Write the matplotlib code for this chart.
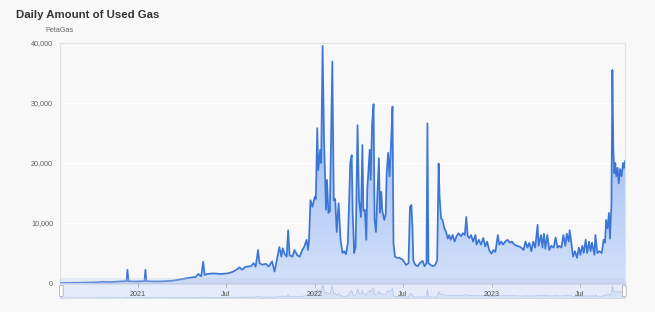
import numpy as np
import matplotlib
matplotlib.use("Agg")
import matplotlib.pyplot as plt
import matplotlib.dates as mdates
from matplotlib.colors import LinearSegmentedColormap
from matplotlib.ticker import FuncFormatter
from matplotlib.patches import FancyBboxPatch

plt.rcParams['font.family'] = ['Liberation Sans', 'DejaVu Sans']

# days counted from 2021-01-01, values in PetaGas
days = [-160, -139, -112, -87, -73, -56, -40, -27, -23, -21, -19, -5, 14, 16, 18, 37, 57, 67, 74, 88,
        109, 119, 125, 131, 135, 138, 143, 156, 171, 185, 195, 205, 210, 215, 222, 233, 239, 243, 248, 251,
        257, 264, 270, 277, 282, 288, 292, 296, 299, 303, 307, 310, 313, 319, 323, 329, 334, 339, 343, 348,
        351, 353, 356, 360, 365, 367, 370, 372, 376, 378, 381, 384, 388, 390, 393, 396, 401, 404, 407, 410,
        414, 418, 422, 425, 429, 433, 438, 441, 443, 446, 449, 453, 456, 460, 463, 465, 468, 471, 473, 478,
        480, 483, 486, 488, 491, 494, 497, 499, 502, 504, 508, 511, 513, 516, 519, 522, 525, 527, 530, 535,
        539, 546, 553, 558, 561, 564, 566, 568, 572, 577, 581, 587, 591, 595, 597, 599, 604, 608, 613, 617,
        620, 622, 625, 628, 632, 635, 639, 642, 645, 649, 653, 657, 661, 666, 670, 674, 677, 680, 683, 687,
        691, 696, 698, 703, 707, 712, 716, 720, 724, 729, 733, 737, 742, 745, 749, 753, 757, 762, 767, 771,
        776, 781, 786, 790, 795, 799, 803, 807, 811, 815, 819, 824, 826, 831, 834, 837, 840, 844, 848, 852,
        857, 861, 865, 869, 873, 877, 881, 884, 888, 890, 893, 897, 901, 905, 909, 912, 916, 919, 923, 926,
        930, 933, 936, 941, 943, 947, 951, 956, 960, 963, 965, 968, 971, 973, 976, 978, 980, 982, 984, 986,
        989, 991, 994, 997, 1000, 1002, 1004]
gas = [0, 20, 60, 100, 200, 150, 250, 300, 300, 2200, 300, 250, 300, 2200, 300, 250, 300, 350, 400, 600,
       900, 1000, 1500, 1100, 3550, 1330, 1500, 1600, 1500, 1600, 1830, 2300, 2600, 2200, 2700, 2800, 3300, 2700, 5500, 3300,
       3050, 3200, 2750, 3600, 1900, 4400, 6000, 4400, 5800, 4800, 4400, 8800, 4600, 4400, 5500, 4600, 4400, 5500, 6000, 7200,
       5500, 7100, 13800, 12700, 14400, 14000, 25800, 18800, 22200, 20000, 39500, 23800, 12200, 17200, 11700, 12000, 36900, 13800, 14000, 8500,
       13300, 7200, 5000, 5300, 4800, 6700, 20000, 21300, 11700, 5000, 6000, 26300, 13800, 11000, 23000, 12000, 12200, 7200, 15500, 22200,
       17200, 26600, 29800, 10500, 8500, 15000, 20800, 11700, 15200, 12000, 10500, 11500, 18300, 21700, 17800, 23300, 29400, 6700, 4400, 4200,
       4200, 3900, 3000, 3300, 12700, 13000, 9400, 3700, 3000, 2800, 3300, 3700, 2800, 3300, 26600, 3300, 3000, 2800, 3000, 3800,
       19900, 14400, 10800, 10500, 9100, 8600, 7400, 8000, 7200, 8000, 6900, 7800, 8300, 7800, 8300, 8000, 11000, 7800, 7500, 8000,
       6900, 8000, 6400, 7200, 6400, 7500, 6100, 6900, 5500, 4900, 5500, 5200, 8000, 6400, 6900, 6400, 6900, 7200, 6700, 6900,
       6400, 6200, 6100, 5900, 5500, 6900, 5900, 6700, 5300, 6900, 5900, 9700, 6200, 8000, 5900, 8200, 5700, 8000, 5500, 6200,
       5900, 7600, 5900, 6200, 5900, 8000, 6200, 8200, 6900, 8800, 6900, 4400, 5300, 4200, 5900, 4700, 6200, 5000, 7200, 5000,
       6900, 5300, 6700, 4700, 8000, 5000, 5300, 5000, 7200, 6700, 10500, 9100, 11700, 7400, 13000, 35500, 22200, 18300, 20000, 17800,
       19200, 16600, 19000, 17800, 20000, 19200, 20300]
assert len(days) == len(gas)

tick_dates = ['2021-01-01', '2021-07-01', '2022-01-01', '2022-07-01', '2023-01-01', '2023-07-01']
tick_labels = ['2021', 'Jul', '2022', 'Jul', '2023', 'Jul']
y_ticks = [0, 10000, 20000, 30000, 40000]

bg = '#f8f8f8'
line_c = '#3b76d6'

dates = np.datetime64('2021-01-01') + np.array(days).astype('timedelta64[D]')
x = mdates.date2num(dates)
y = np.array(gas, dtype=float)

fig = plt.figure(figsize=(6.55, 3.12), dpi=100)
fig.patch.set_facecolor(bg)

ax = fig.add_axes([60/655, 29/312, 565/655, 240/312])
ax.set_facecolor(bg)
ax.set_xlim(x[0], x[-1])
ax.set_ylim(0, 40000)

# gradient fill under the line
cmap = LinearSegmentedColormap.from_list('g', ['#d3e1fa', '#85abee'])
grad = np.linspace(1, 0, 256).reshape(-1, 1)
img = ax.imshow(grad, cmap=cmap, aspect='auto', extent=[x[0], x[-1], 0, 40000],
                origin='upper', zorder=2, vmin=0, vmax=1)
poly = ax.fill_between(x, 0, y, facecolor='none', edgecolor='none')
img.set_clip_path(poly.get_paths()[0], transform=ax.transData)
ax.plot(x, y, color=line_c, lw=1.25, zorder=4, solid_joinstyle='round')

# light band of the navigator mask
ax.axhspan(0, 900, color='#b9c7e6', alpha=0.3, zorder=5, lw=0)

ax.set_yticks(y_ticks)
ax.yaxis.set_major_formatter(FuncFormatter(lambda v, p: '{:,}'.format(int(v))))
for v in y_ticks[1:4]:
    ax.axhline(v, color='white', lw=0.9, zorder=1)
ax.tick_params(axis='y', length=0, pad=5, labelsize=5.2, labelcolor='#606060')

ax.set_xticks(mdates.date2num(np.array(tick_dates, dtype='datetime64[D]')))
ax.set_xticklabels(tick_labels)
ax.tick_params(axis='x', length=3, width=0.6, color='#a8a8a8', pad=2.5,
               labelsize=5.2, labelcolor='#505050')

for s in ['left', 'right', 'top']:
    ax.spines[s].set_color('#e2e2e2')
    ax.spines[s].set_linewidth(0.8)
ax.spines['bottom'].set_color('#c3cde8')
ax.spines['bottom'].set_linewidth(0.8)
ax.set_zorder(2)

# navigator below the axis
nav = fig.add_axes([60/655, 14/312, 565/655, 14/312])
nav.set_facecolor('#e5ebfa')
nav.set_xlim(x[0], x[-1])
nav.set_ylim(0, 42000)
nav.fill_between(x, 0, y, color='#d6e0f6', lw=0)
nav.plot(x, y, color='#afc3ea', lw=0.5)
nav.set_xticks([])
nav.set_yticks([])
for s in nav.spines.values():
    s.set_color('#cdd6ee')
    s.set_linewidth(0.6)
nav.set_zorder(1)
for hx in [60, 623]:
    fig.patches.append(FancyBboxPatch((hx/655, 16/312), 2.5/655, 10/312,
                                      boxstyle='round,pad=0.001', transform=fig.transFigure,
                                      facecolor='white', edgecolor='#a0a0a0', lw=0.5, zorder=5))

fig.text(16/655, 1 - 15/312, 'Daily Amount of Used Gas', fontsize=8.2, fontweight='bold',
         color='#333333', ha='left', va='center')
fig.text(45/655, 1 - 30/312, 'PetaGas', fontsize=5.2, color='#666666', ha='left', va='center')

fig.savefig('out.png', dpi=100, facecolor=bg)
